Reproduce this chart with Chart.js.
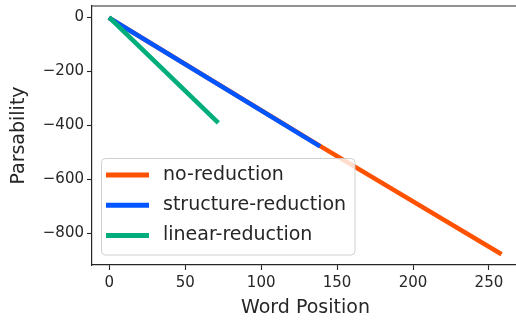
<!DOCTYPE html>
<html>
<head>
<meta charset="utf-8">
<script src="https://cdn.jsdelivr.net/npm/chart.js@4/dist/chart.umd.min.js"></script>
<style>
  html, body { margin: 0; padding: 0; background: #ffffff; overflow: hidden; }
  canvas { display: block; }
</style>
</head>
<body>
<canvas id="c" width="530" height="320"></canvas>
<script>
// Parsability over word position for three reduction settings
const seriesNames = ['no-reduction', 'structure-reduction', 'linear-reduction'];
const noReductionX = [1, 137, 257];
const noReductionY = [-5, -470, -873];
const structureReductionX = [1, 137.5];
const structureReductionY = [-5, -473];
const linearReductionX = [1, 70.7];
const linearReductionY = [-5, -384];

const xTicks = [0, 50, 100, 150, 200, 250];
const yTicks = [0, -200, -400, -600, -800];
const xLimits = [-11.4, 269.8];
const yLimits = [-917, 43];

const seriesColors = ['#FF5200', '#0055FF', '#00AD7B'];
const FONT = "'DejaVu Sans', sans-serif";
const INK = '#262626';

const toPoints = (xs, ys) => xs.map((x, i) => ({ x: x, y: ys[i] }));
const fmt = v => (v < 0 ? '\u2212' + Math.abs(v) : String(v));

const seriesData = [
  toPoints(noReductionX, noReductionY),
  toPoints(structureReductionX, structureReductionY),
  toPoints(linearReductionX, linearReductionY)
];

// Box around the axes plus a legend panel in the lower left
const framePlugin = {
  id: 'frameAndLegend',
  afterDatasetsDraw(chart) {
    const ctx = chart.ctx;
    const a = chart.chartArea;
    ctx.save();
    ctx.strokeStyle = INK;
    ctx.lineWidth = 1.2;
    ctx.beginPath();
    ctx.moveTo(a.left, a.top);
    ctx.lineTo(a.right, a.top);
    ctx.lineTo(a.right, a.bottom);
    ctx.stroke();

    // legend panel
    const bx = 101.5, by = 158.5, bw = 253.5, bh = 96.5, r = 4;
    ctx.beginPath();
    ctx.moveTo(bx + r, by);
    ctx.lineTo(bx + bw - r, by);
    ctx.arcTo(bx + bw, by, bx + bw, by + r, r);
    ctx.lineTo(bx + bw, by + bh - r);
    ctx.arcTo(bx + bw, by + bh, bx + bw - r, by + bh, r);
    ctx.lineTo(bx + r, by + bh);
    ctx.arcTo(bx, by + bh, bx, by + bh - r, r);
    ctx.lineTo(bx, by + r);
    ctx.arcTo(bx, by, bx + r, by, r);
    ctx.closePath();
    ctx.fillStyle = 'rgba(255,255,255,0.8)';
    ctx.fill();
    ctx.strokeStyle = 'rgba(204,204,204,0.9)';
    ctx.lineWidth = 1;
    ctx.stroke();

    ctx.font = '19px ' + FONT;
    ctx.textBaseline = 'middle';
    ctx.textAlign = 'left';
    seriesNames.forEach((name, i) => {
      const y = 175 + i * 30.2;
      ctx.strokeStyle = seriesColors[i];
      ctx.lineWidth = 5;
      ctx.lineCap = 'butt';
      ctx.beginPath();
      ctx.moveTo(106, y);
      ctx.lineTo(149, y);
      ctx.stroke();
      ctx.fillStyle = INK;
      ctx.fillText(name, 163, y);
    });
    ctx.restore();
  }
};

new Chart(document.getElementById('c'), {
  type: 'line',
  data: {
    datasets: seriesNames.map((name, i) => ({
      label: name,
      data: seriesData[i],
      // later series are painted on top of earlier ones
      order: seriesNames.length - i,
      borderColor: seriesColors[i],
      backgroundColor: seriesColors[i],
      borderWidth: 4.6,
      borderCapStyle: 'square',
      borderJoinStyle: 'round',
      pointRadius: 0,
      tension: 0,
      fill: false
    }))
  },
  options: {
    responsive: false,
    animation: false,
    devicePixelRatio: 1,
    layout: { padding: { top: 6, right: 11, left: 0, bottom: 0 } },
    plugins: { legend: { display: false }, tooltip: { enabled: false } },
    scales: {
      x: {
        type: 'linear',
        min: xLimits[0],
        max: xLimits[1],
        afterBuildTicks: s => { s.ticks = xTicks.map(v => ({ value: v })); },
        afterFit: s => { s.height = 55; s.paddingLeft = 0; s.paddingRight = 0; },
        grid: { display: true, drawOnChartArea: false, drawTicks: true, tickLength: 5, tickColor: INK, tickWidth: 1.1 },
        border: { display: true, color: INK, width: 1.2 },
        ticks: { font: { family: FONT, size: 15 }, color: INK, padding: 4, maxRotation: 0, autoSkip: false, callback: v => fmt(v) },
        title: { display: true, text: 'Word Position', font: { family: FONT, size: 19 }, color: INK, padding: { top: 2, bottom: 1 } }
      },
      y: {
        type: 'linear',
        min: yLimits[0],
        max: yLimits[1],
        afterBuildTicks: s => { s.ticks = yTicks.map(v => ({ value: v })); },
        afterFit: s => { s.width = 92; s.paddingTop = 0; s.paddingBottom = 0; },
        grid: { display: true, drawOnChartArea: false, drawTicks: true, tickLength: 5, tickColor: INK, tickWidth: 1.1 },
        border: { display: true, color: INK, width: 1.2 },
        ticks: { font: { family: FONT, size: 15 }, color: INK, padding: 3, autoSkip: false, callback: v => fmt(v) },
        title: { display: true, text: 'Parsability', font: { family: FONT, size: 19 }, color: INK, padding: { top: 8, bottom: 2 } }
      }
    }
  },
  plugins: [framePlugin]
});
</script>
</body>
</html>
